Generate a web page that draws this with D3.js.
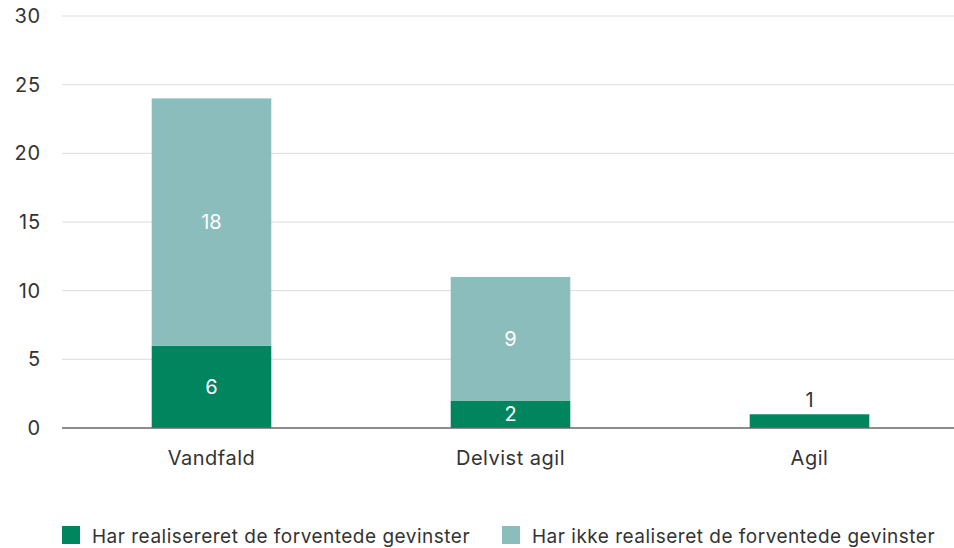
<!DOCTYPE html>
<html>
<head>
<meta charset="utf-8">
<script src="https://cdn.jsdelivr.net/npm/d3@7"></script>
<style>
  body { margin: 0; background: #fff; }
  svg { display: block; font-family: Inter, "Liberation Sans", sans-serif; }
</style>
</head>
<body>
<svg id="chart"></svg>
<script>
const categories = ["Vandfald", "Delvist agil", "Agil"];
const realised = [6, 2, 1];
const notRealised = [18, 9, 0];
const seriesNames = ["Har realisereret de forventede gevinster", "Har ikke realiseret de forventede gevinster"];
const yTicks = [0, 5, 10, 15, 20, 25, 30];

const colors = ["#00855f", "#8bbdbd"];
const textColor = "#333";

function drawChart() {
    const width = 954, height = 548;
    const svg = d3.select("#chart").attr("width", width).attr("height", height);

    const rows = categories.map((c, i) => ({ cat: c, s0: realised[i], s1: notRealised[i] }));
    const stacked = d3.stack().keys(["s0", "s1"])(rows);

    const x = d3.scaleBand()
        .domain(categories)
        .range([62, 959])
        .paddingInner(0.6)
        .paddingOuter(0.3);

    const y = d3.scaleLinear()
        .domain([0, 30])
        .range([428, 16]);

    // gridlines
    svg.append("g")
        .selectAll("line")
        .data(yTicks.filter(d => d > 0))
        .enter()
        .append("line")
        .attr("x1", 62)
        .attr("x2", width)
        .attr("y1", d => y(d))
        .attr("y2", d => y(d))
        .attr("stroke", "#dcdcdc")
        .attr("stroke-width", 1);

    // y tick labels
    svg.append("g")
        .selectAll("text")
        .data(yTicks)
        .enter()
        .append("text")
        .attr("x", 41)
        .attr("y", d => y(d) + 7)
        .attr("text-anchor", "end")
        .attr("fill", textColor)
        .style("font-size", "20px")
        .style("letter-spacing", "0.8px")
        .text(d => d);

    // bars
    const layer = svg.append("g")
        .selectAll("g")
        .data(stacked)
        .enter()
        .append("g")
        .attr("fill", (d, i) => colors[i]);

    layer.selectAll("rect")
        .data(d => d.filter(p => p[1] - p[0] > 0))
        .enter()
        .append("rect")
        .attr("x", d => x(d.data.cat))
        .attr("y", d => y(d[1]))
        .attr("width", x.bandwidth())
        .attr("height", d => y(d[0]) - y(d[1]));

    // value labels
    layer.selectAll("text")
        .data(d => d.filter(p => p[1] - p[0] > 0))
        .enter()
        .append("text")
        .attr("x", d => x(d.data.cat) + x.bandwidth() / 2)
        .attr("y", d => {
            const h = y(d[0]) - y(d[1]);
            return h > 20 ? (y(d[0]) + y(d[1])) / 2 + 7 : y(d[1]) - 7;
        })
        .attr("text-anchor", "middle")
        .attr("fill", d => (y(d[0]) - y(d[1]) > 20 ? "#fff" : textColor))
        .style("font-size", "20px")
        .text(d => d[1] - d[0]);

    // x axis line
    svg.append("line")
        .attr("x1", 62)
        .attr("x2", width)
        .attr("y1", y(0))
        .attr("y2", y(0))
        .attr("stroke", "#666")
        .attr("stroke-width", 1.5);

    // x labels
    svg.append("g")
        .selectAll("text")
        .data(categories)
        .enter()
        .append("text")
        .attr("x", d => x(d) + x.bandwidth() / 2)
        .attr("y", 465)
        .attr("text-anchor", "middle")
        .attr("fill", textColor)
        .style("font-size", "20px")
        .style("letter-spacing", "0.5px")
        .text(d => d);

    // legend
    const legendX = [62, 502];
    const legend = svg.append("g")
        .selectAll("g")
        .data(seriesNames)
        .enter()
        .append("g")
        .attr("transform", (d, i) => `translate(${legendX[i]},526)`);

    legend.append("rect")
        .attr("width", 18)
        .attr("height", 18)
        .attr("fill", (d, i) => colors[i]);

    legend.append("text")
        .attr("x", 30)
        .attr("y", 17)
        .attr("fill", textColor)
        .style("font-size", "19px")
        .style("letter-spacing", "0.5px")
        .text(d => d);
}

drawChart();
</script>
</body>
</html>
